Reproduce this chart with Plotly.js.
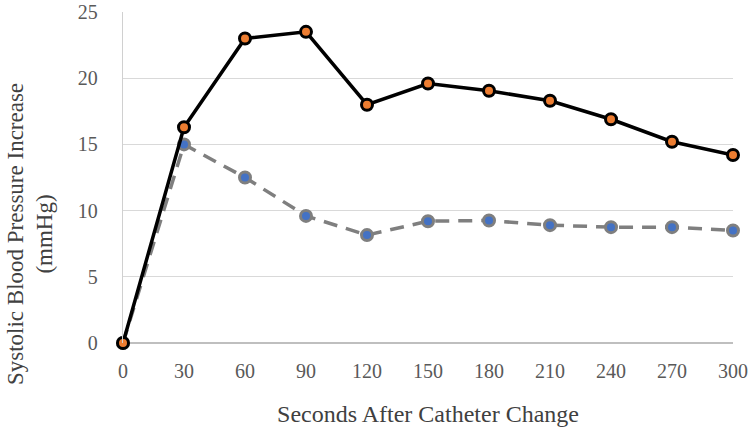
<!DOCTYPE html>
<html><head><meta charset="utf-8">
<script src="https://cdn.plot.ly/plotly-3.0.1.min.js"></script>
<style>html,body{margin:0;padding:0;background:#fff}#c{width:750px;height:429px}</style>
</head><body><div id="c"></div>
<script>
const seconds = [0, 30, 60, 90, 120, 150, 180, 210, 240, 270, 300];
const seriesSolid = [0, 16.3, 23.0, 23.5, 18.0, 19.6, 19.05, 18.3, 16.9, 15.2, 14.2];
const seriesDashed = [0, 15.0, 12.5, 9.6, 8.15, 9.2, 9.25, 8.9, 8.75, 8.75, 8.5];
const xTickLabels = ['0','30','60','90','120','150','180','210','240','270','300'];
const yTickVals = [0, 5, 10, 15, 20, 25];

const FONT = 'Liberation Serif';
const traces = [
  {x: seconds, y: seriesDashed, mode: 'lines+markers', type: 'scatter',
   line: {color: '#7f7f7f', width: 3.5, dash: '14px,9px'},
   marker: {size: 11, color: '#4472C4', line: {color: '#7f7f7f', width: 3}},
   cliponaxis: false, showlegend: false},
  {x: seconds, y: seriesSolid, mode: 'lines+markers', type: 'scatter',
   line: {color: '#000000', width: 3.5},
   marker: {size: 11, color: '#ED7D31', line: {color: '#000000', width: 3}},
   cliponaxis: false, showlegend: false}
];
const layout = {
  width: 750, height: 429,
  margin: {l: 123, r: 17, t: 12, b: 86},
  paper_bgcolor: '#fff', plot_bgcolor: '#fff',
  font: {family: FONT, color: '#595959'},
  xaxis: {range: [0, 300], tickvals: seconds, ticktext: xTickLabels,
    showgrid: false, zeroline: false, showline: false, ticks: '',
    ticklabelstandoff: 14,
    tickfont: {family: FONT, size: 20, color: '#595959'},
    title: {text: 'Seconds After Catheter Change', font: {family: FONT, size: 24, color: '#404040'}, standoff: 24}},
  yaxis: {range: [0, 25], tickvals: yTickVals, showgrid: true, gridcolor: '#d9d9d9', gridwidth: 1.3,
    zeroline: true, zerolinecolor: '#bfbfbf', zerolinewidth: 1.3,
    showline: true, linecolor: '#d0d0d0', linewidth: 1.3, ticks: '',
    ticklabelstandoff: 20, ticklabeloverflow: 'allow',
    tickfont: {family: FONT, size: 20, color: '#595959'}},
  annotations: [{
    text: 'Systolic Blood Pressure Increase<br>(mmHg)', textangle: -90,
    xref: 'paper', yref: 'paper', x: -0.152, y: 0.33, xanchor: 'center', yanchor: 'middle',
    showarrow: false, font: {family: FONT, size: 23, color: '#404040'}
  }]
};
Plotly.newPlot('c', traces, layout, {displayModeBar: false, staticPlot: true});
</script></body></html>
